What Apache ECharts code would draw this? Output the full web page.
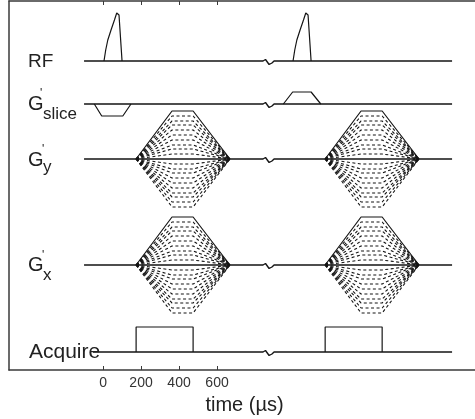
<!DOCTYPE html>
<html>
<head>
<meta charset="utf-8">
<script src="https://cdn.jsdelivr.net/npm/echarts@6/dist/echarts.min.js"></script>
<style>
  html, body { margin: 0; padding: 0; background: #fff; overflow: hidden; }
  #chart { width: 475px; height: 419px; }
</style>
</head>
<body>
<div id="chart"></div>
<script>
// time axis (µs)
const timeTicks = [0, 200, 400, 600];
const repeatShift = 995; // second repetition, after the axis break

// rows: baseline level (y units) and where each baseline begins
const rowLevels = { rf: 309, slice: 266, gy: 211, gx: 105, acq: 18 };
const rowStart = { rf: -100, slice: -100, gy: -100, gx: -100, acq: -53 };
const rowEnd = 1837;

// "~" break mark on every baseline
const breakT = [842, 855, 863, 874, 882, 889, 900];
const breakY = [0, 1.5, 0, -3.5, -4, -2, 0];

// RF pulse
const rfT = [5, 14, 25, 42, 60, 72, 76, 80, 84, 100];
const rfA = [0, 11, 21, 31, 41, 48, 49.5, 49, 46, 0];

// slice gradient lobes (first / second repetition)
const slice1T = [-46, -7, 104, 147];
const slice1A = [0, -12, -12, 0];
const slice2T = [-46, 3, 100, 151];
const slice2A = [0, 12, 12, 0];

// Gy / Gx trapezoid timing and stepped amplitudes
const peT = [174, 363, 474, 668];
const peShape = [0, 1, 1, 0];
const peSteps = [48, 43, 38, 34, 29, 24, 19, 14, 10, 5, -5, -10, -14, -19, -24, -29, -34, -38, -43, -48];

// acquisition window
const acqT = [174, 174, 474, 474];
const acqA = [0, 25, 25, 0];

const ink = '#151515';
const fontFam = '"Liberation Sans", Arial, sans-serif';

function wave(ts, as, level, shift) {
  return ts.map((t, i) => [t + shift, level + as[i]]);
}
function baseline(level, start) {
  const pts = [[start, level]];
  breakT.forEach((t, i) => pts.push([t, level + breakY[i]]));
  pts.push([rowEnd, level]);
  return pts;
}
function line(data, width, type) {
  return {
    type: 'line', data: data, symbol: 'none', silent: true, animation: false,
    lineStyle: { color: ink, width: width, type: type || 'solid' }
  };
}

const series = [];
Object.keys(rowLevels).forEach(k => {
  series.push(line(baseline(rowLevels[k], rowStart[k]), 1.4));
});
[0, repeatShift].forEach((sh, r) => {
  series.push(line(wave(rfT, rfA, rowLevels.rf, sh), 1.2));
  if (r === 0) series.push(line(wave(slice1T, slice1A, rowLevels.slice, sh), 1.2));
  else series.push(line(wave(slice2T, slice2A, rowLevels.slice, sh), 1.2));
  ['gy', 'gx'].forEach(g => {
    peSteps.forEach((amp, i) => {
      const a = peShape.map(s => s * amp);
      if (i === 0) series.push(line(wave(peT, a, rowLevels[g], sh), 1.2));
      else series.push(line(wave(peT, a, rowLevels[g], sh), 1.1, [3, 2.5]));
    });
  });
  series.push(line(wave(acqT, acqA, rowLevels.acq, sh), 1.2));
});

const axisInk = '#3a3a3a';
const chart = echarts.init(document.getElementById('chart'));
chart.setOption({
  backgroundColor: '#fff',
  animation: false,
  grid: { left: 9, right: -5, top: 1, bottom: 49, outerBoundsMode: 'none', containLabel: false },
  xAxis: [{
    type: 'value', min: -495, max: 1984, position: 'bottom',
    name: 'time (µs)', nameLocation: 'middle', nameGap: 25,
    nameTextStyle: { fontSize: 20, color: '#222', fontFamily: fontFam },
    axisLine: { show: true, onZero: false, lineStyle: { color: axisInk, width: 1.5 } },
    axisTick: { show: true, inside: true, length: 4, customValues: timeTicks, lineStyle: { color: axisInk } },
    axisLabel: { customValues: timeTicks, margin: 6, fontSize: 14, color: '#333', fontFamily: fontFam },
    splitLine: { show: false }
  }, {
    type: 'value', min: -495, max: 1984, position: 'top',
    axisLine: { show: true, onZero: false, lineStyle: { color: axisInk, width: 1.5 } },
    axisTick: { show: true, inside: true, length: 4, customValues: timeTicks, lineStyle: { color: axisInk } },
    axisLabel: { show: false },
    splitLine: { show: false }
  }],
  yAxis: {
    type: 'value', min: 0, max: 369, position: 'left',
    axisLine: { show: true, onZero: false, lineStyle: { color: axisInk, width: 1.5 } },
    axisTick: { show: false }, axisLabel: { show: false }, splitLine: { show: false }
  },
  series: series
});

// row labels
function txt(str, x, y, size) {
  return {
    type: 'text', x: x, y: y, z: 100, silent: true,
    style: { text: str, font: size + 'px ' + fontFam, fill: '#222', align: 'left', verticalAlign: 'middle' }
  };
}
const py = k => chart.convertToPixel({ yAxisIndex: 0 }, rowLevels[k]);
chart.setOption({
  graphic: [
    // keep the right side open like the original (no frame edge there)
    { type: 'rect', z: 90, silent: true, shape: { x: 462, y: 3, width: 20, height: 364 }, style: { fill: '#fff' } },
    txt('RF', 28, py('rf') + 0.6, 19),
    txt('G', 28, py('slice') + 0.5, 20),
    txt("'", 40, py('slice') - 10, 12),
    txt('slice', 43, py('slice') + 10.4, 17),
    txt('G', 28, py('gy') + 1, 20),
    txt("'", 42, py('gy') - 9, 12),
    txt('y', 43, py('gy') + 8.8, 17),
    txt('G', 28, py('gx') + 0.5, 20),
    txt("'", 42, py('gx') - 9, 12),
    txt('x', 43, py('gx') + 10, 17),
    txt('Acquire', 29, py('acq') + 0.6, 21)
  ]
});
</script>
</body>
</html>
